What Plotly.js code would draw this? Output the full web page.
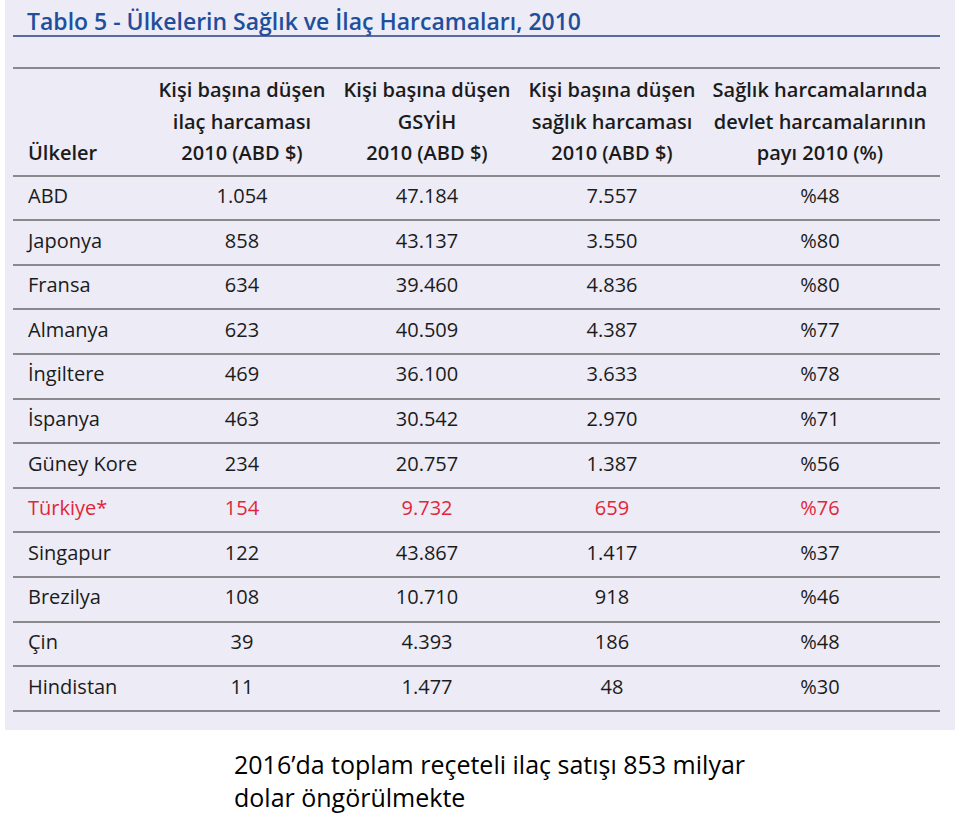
<!DOCTYPE html>
<html>
<head>
<meta charset="utf-8">
<script src="https://cdn.plot.ly/plotly-3.0.1.min.js"></script>
<style>
  body { margin: 0; background: #ffffff; }
  #myPlot { width: 959px; height: 814px; }
</style>
</head>
<body>
<div id="myPlot"></div>
<script>

// Tablo verileri
let countries = ['ABD', 'Japonya', 'Fransa', 'Almanya', 'İngiltere', 'İspanya',
    'Güney Kore', 'Türkiye*', 'Singapur', 'Brezilya', 'Çin', 'Hindistan'];
let ilacHarcama = [1054, 858, 634, 623, 469, 463, 234, 154, 122, 108, 39, 11];
let gsyih = [47184, 43137, 39460, 40509, 36100, 30542, 20757, 9732, 43867, 10710, 4393, 1477];
let saglikHarcama = [7557, 3550, 4836, 4387, 3633, 2970, 1387, 659, 1417, 918, 186, 48];
let devletPayi = [48, 80, 80, 77, 78, 71, 56, 76, 37, 46, 48, 30];

let highlightRow = 'Türkiye*';

// header, three lines per column
let headerLines = [
    ['', '', 'Ülkeler'],
    ['Kişi başına düşen', 'ilaç harcaması', '2010 (ABD $)'],
    ['Kişi başına düşen', 'GSYİH', '2010 (ABD $)'],
    ['Kişi başına düşen', 'sağlık harcaması', '2010 (ABD $)'],
    ['Sağlık harcamalarında', 'devlet harcamalarının', 'payı 2010 (%)']
];

let titleText = 'Tablo 5 - Ülkelerin Sağlık ve İlaç Harcamaları, 2010';
let noteText = '2016’da toplam reçeteli ilaç satışı 853 milyar<br>dolar öngörülmekte';

// layout stuff (pixel-like x axis, row units on y)
const colX = [28, 242, 427, 612, 820];
const headerY = [-2.38, -1.66, -0.965];
const topRule = -2.915;

const textColor = '#1b1b1b';
const redColor = '#e0263a';
const bodyFont = '"Open Sans", "Noto Sans", sans-serif';

function fmt(n) {
    // turkish thousands separator
    return String(n).replace(/\B(?=(\d{3})+(?!\d))/g, '.');
}

function buildTraces() {
    let rows = countries.map(function (c, i) { return i; });
    let colors = countries.map(function (c) { return c === highlightRow ? redColor : textColor; });

    let columns = [
        countries,
        ilacHarcama.map(fmt),
        gsyih.map(fmt),
        saglikHarcama.map(fmt),
        devletPayi.map(function (v) { return '%' + v; })
    ];

    let traces = [];
    for (let j = 0; j < columns.length; j++) {
        traces.push({
            x: rows.map(function () { return colX[j]; }),
            y: rows,
            text: columns[j],
            mode: 'text',
            type: 'scatter',
            textposition: j === 0 ? 'middle right' : 'middle center',
            textfont: { family: bodyFont, size: 20, color: colors, weight: 500 },
            hoverinfo: 'skip',
            showlegend: false,
            cliponaxis: false
        });

        // header lines
        traces.push({
            x: headerY.map(function () { return colX[j]; }),
            y: headerY,
            text: headerLines[j],
            mode: 'text',
            type: 'scatter',
            textposition: j === 0 ? 'middle right' : 'middle center',
            textfont: { family: bodyFont, size: 20, color: textColor, weight: 600 },
            hoverinfo: 'skip',
            showlegend: false,
            cliponaxis: false
        });
    }
    return traces;
}

function renderTable() {
    // rules between rows come from y gridlines
    let ruleVals = [topRule];
    for (let i = 0; i <= countries.length; i++) {
        ruleVals.push(i - 0.5);
    }

    const layout = {
        width: 959,
        height: 814,
        margin: { l: 13, r: 19, t: 37, b: 84 },
        paper_bgcolor: '#ffffff',
        plot_bgcolor: 'rgba(0,0,0,0)',
        title: {
            text: titleText,
            font: { family: bodyFont, size: 23, color: '#1f4f9c', weight: 600 },
            xref: 'paper',
            x: 14 / 927,
            xanchor: 'left',
            yref: 'container',
            y: 1 - 22 / 814,
            yanchor: 'middle'
        },
        xaxis: {
            range: [13, 940],
            side: 'top',
            showline: true,
            linecolor: '#5b6a9c',
            linewidth: 2,
            showgrid: false,
            zeroline: false,
            showticklabels: false,
            ticks: '',
            fixedrange: true
        },
        yaxis: {
            range: [11.93, -3.61],
            tickvals: ruleVals,
            showgrid: true,
            gridcolor: '#8a8a8e',
            gridwidth: 2,
            zeroline: false,
            showline: false,
            showticklabels: false,
            ticks: '',
            fixedrange: true
        },
        shapes: [{
            // lavender panel behind the table
            type: 'rect',
            xref: 'paper', yref: 'paper',
            x0: -8 / 927, x1: 942 / 927,
            y0: 0, y1: 1.06,
            fillcolor: '#ecebf6',
            line: { width: 0 },
            layer: 'below'
        }],
        annotations: [{
            text: noteText,
            xref: 'paper', yref: 'paper',
            x: 219 / 927, xanchor: 'left',
            y: -0.021, yanchor: 'top',
            align: 'left',
            showarrow: false,
            font: { family: bodyFont, size: 25, color: '#000000' }
        }]
    };

    Plotly.newPlot('myPlot', buildTraces(), layout, { displayModeBar: false, staticPlot: true });
}

renderTable();
</script>
</body>
</html>
